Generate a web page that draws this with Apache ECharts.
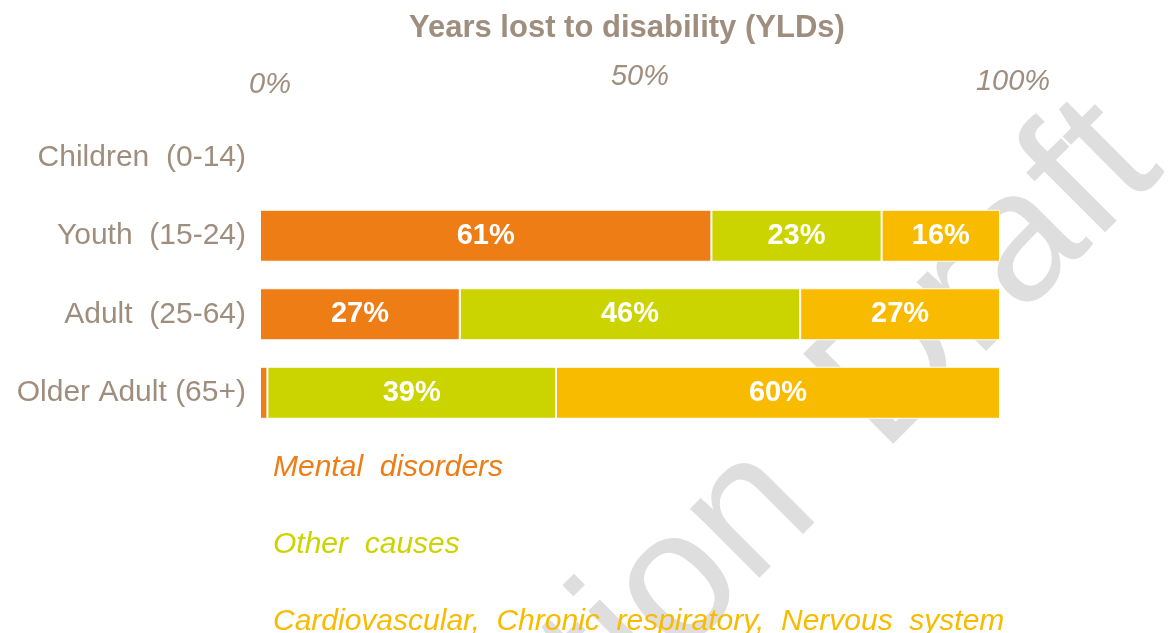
<!DOCTYPE html>
<html>
<head>
<meta charset="utf-8">
<script src="https://cdn.jsdelivr.net/npm/echarts@6/dist/echarts.min.js"></script>
<style>
  html, body { margin: 0; padding: 0; background: #fff; }
  #chart { width: 1175px; height: 633px; }
</style>
</head>
<body>
<div id="chart"></div>
<script>
// data
const categories = ["Children  (0-14)", "Youth  (15-24)", "Adult  (25-64)", "Older Adult (65+)"];
const mental = ["-", 61, 27, 1];
const other = ["-", 23, 46, 39];
const cardio = ["-", 16, 27, 60];
const seriesNames = ["Mental  disorders", "Other  causes", "Cardiovascular,  Chronic  respiratory,  Nervous  system"];
const seriesColors = ["#ED7D14", "#CCD400", "#F9BB00"];
const legendTops = [453, 530, 607];

const grey = "#9F8E7E";
const font = '"Liberation Sans", Arial, sans-serif';

const chart = echarts.init(document.getElementById("chart"));

const barLabel = {
  show: true,
  position: "inside",
  color: "#fff",
  fontWeight: "bold",
  fontSize: 29,
  fontFamily: font,
  formatter: (p) => (p.value >= 5 ? p.value + "%" : ""),
};

function makeSeries(name, data, color) {
  return {
    name: name,
    type: "bar",
    stack: "total",
    barWidth: 52,
    data: data,
    itemStyle: { color: color, borderColor: "#fff", borderWidth: 1 },
    label: barLabel,
    z: 5,
  };
}

// one legend per line, text only
const legends = seriesNames.map((n, i) => ({
  left: 267,
  top: legendTops[i],
  padding: 0,
  itemWidth: 0,
  itemHeight: 0,
  icon: "rect",
  selectedMode: false,
  textStyle: { fontSize: 30, fontStyle: "italic", fontFamily: font, lineHeight: 26, color: seriesColors[i] },
  data: [n],
}));

// watermark words, each anchored at its right end
function watermark(text, x, y) {
  return {
    type: "text",
    z: 0,
    x: x,
    y: y,
    rotation: Math.PI / 4,
    style: {
      text: text,
      font: '185px "Liberation Sans"',
      fill: "#dedede",
      textAlign: "right",
      textVerticalAlign: "middle",
      align: "right",
      verticalAlign: "middle",
    },
  };
}

// tick labels sit at slightly different heights in the original
const tickStyle = { color: grey, fontSize: 29, fontStyle: "italic", fontFamily: font };

const option = {
  backgroundColor: "#fff",
  animation: false,
  title: {
    text: "Years lost to disability (YLDs)",
    left: 409,
    top: 13,
    padding: 0,
    textStyle: { color: grey, fontSize: 31, fontWeight: "bold", fontFamily: font },
  },
  graphic: [watermark("Consultation", 787, 478), watermark("Draft", 1130, 135)],
  legend: legends,
  grid: { left: 260, right: 175, top: 118, height: 314 },
  xAxis: {
    type: "value",
    position: "top",
    min: 0,
    max: 100,
    interval: 50,
    axisLine: { show: false },
    axisTick: { show: false },
    splitLine: { show: false },
    axisLabel: {
      formatter: (v) => (v === 0 ? "{a|0%}" : v === 50 ? "{b|50%}" : "{c|100%}"),
      color: grey,
      fontSize: 29,
      fontStyle: "italic",
      fontFamily: font,
      margin: 19,
      rich: {
        a: Object.assign({ padding: [0, 0, 0, 20] }, tickStyle),
        b: Object.assign({ padding: [0, 0, 8, 20] }, tickStyle),
        c: Object.assign({ padding: [0, 0, 3, 26] }, tickStyle),
      },
    },
  },
  yAxis: {
    type: "category",
    inverse: true,
    data: categories,
    axisLine: { show: false },
    axisTick: { show: false },
    splitLine: { show: false },
    axisLabel: { color: grey, fontSize: 30, fontFamily: font, margin: 14 },
  },
  series: [
    makeSeries(seriesNames[0], mental, seriesColors[0]),
    makeSeries(seriesNames[1], other, seriesColors[1]),
    makeSeries(seriesNames[2], cardio, seriesColors[2]),
  ],
};

chart.setOption(option);
window.addEventListener("resize", () => {
  chart.resize();
});
</script>
</body>
</html>
